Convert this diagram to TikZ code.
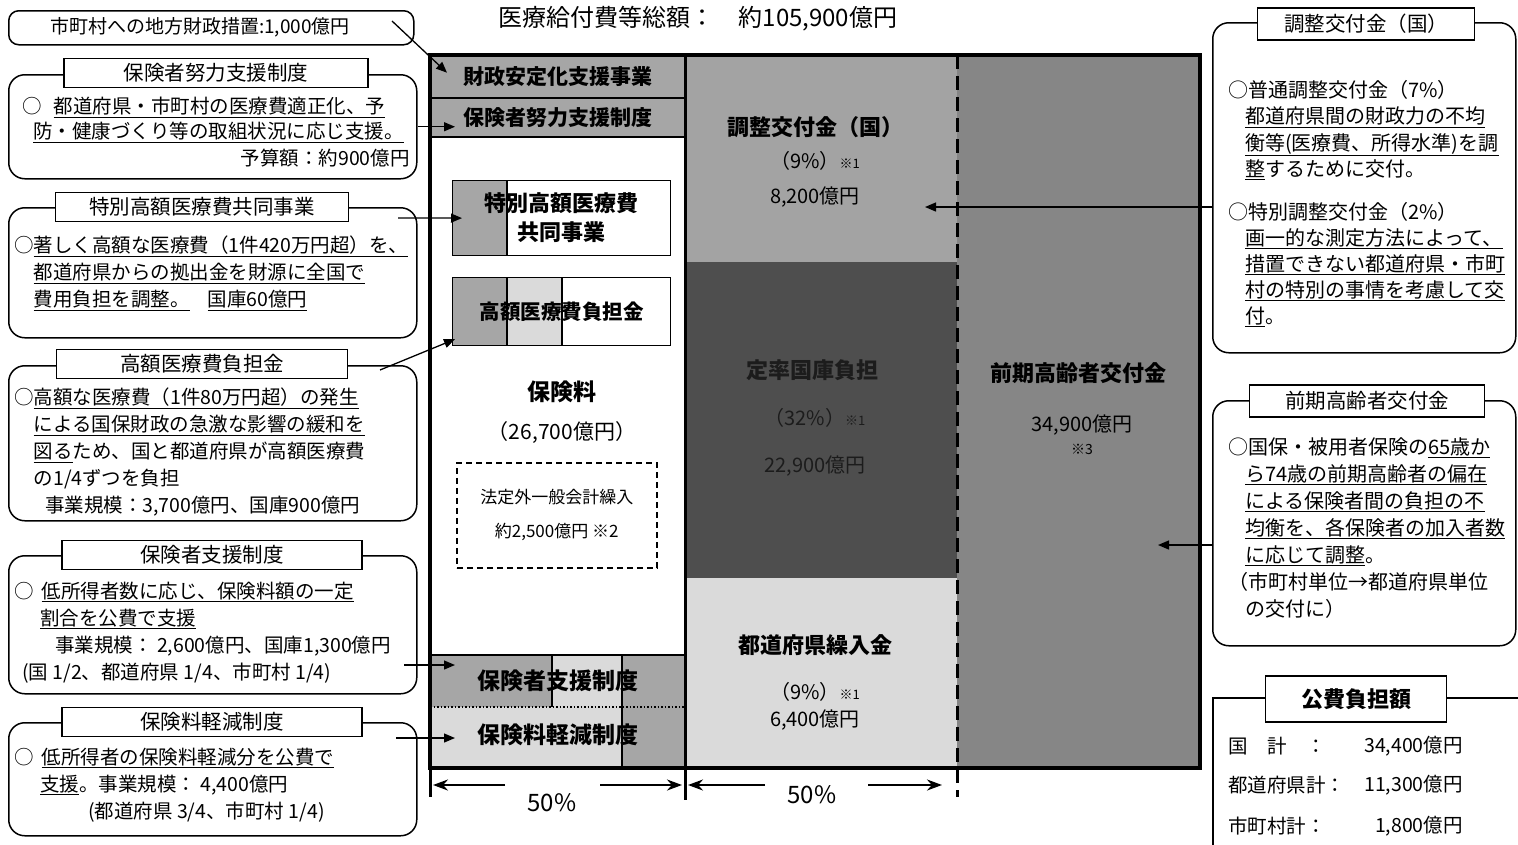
\documentclass[tikz,border=0pt]{standalone}
\usepackage{fontspec}
\setmainfont{Noto Sans CJK JP}
\usetikzlibrary{arrows.meta,positioning}

\definecolor{midgray}{HTML}{A6A6A6}
\definecolor{paleGray}{HTML}{DADADA}
\definecolor{choseiGray}{HTML}{A3A3A3}
\definecolor{teiritsuGray}{HTML}{4E4E4E}
\definecolor{zenkiGray}{HTML}{868686}
\definecolor{darkText}{HTML}{1C1C1C}

\newcommand\jsize[2]{\fontsize{#1}{#2}\selectfont}

\tikzset{
  callout/.style={draw, line width=1.5pt, rounded corners=16pt, anchor=north west, inner sep=0pt},
  tabbox/.style={draw, line width=1.5pt, fill=white, inner sep=0pt, minimum height=29pt, font=\jsize{20.5}{24}},
  body/.style={anchor=north west, inner sep=0pt, align=left, font=\jsize{19.5}{27}},
  rbody/.style={anchor=north west, inner sep=0pt, align=left, font=\jsize{20}{26.5}},
  block/.style={anchor=north west, inner sep=0pt},
  blab/.style={inner sep=0pt, font=\bfseries\jsize{22}{29}, align=center},
  num/.style={inner sep=0pt, font=\jsize{20}{24}},
  arr/.style={-{Triangle[length=11pt,width=9pt]}, line width=1.3pt},
  dimarr/.style={-{Stealth[length=15pt,width=11pt]}, line width=2pt},
}

\begin{document}
\begin{tikzpicture}[x=1pt,y=-1pt]
\clip (0,0) rectangle (1518,844);
\fill[white] (0,0) rectangle (1518,844);

% title
\node[inner sep=0pt, font=\jsize{24}{28}] (title) at (698,19) {医療給付費等総額：　約105,900億円};

% ---- left column ----
\node[block, fill=midgray, minimum width=255pt, minimum height=43pt, blab, font=\bfseries\jsize{21}{25}] (zaisei) at (430,55) {財政安定化支援事業};
\node[block, fill=midgray, minimum width=255pt, minimum height=39pt, blab, font=\bfseries\jsize{21}{25}] (doryoku) at (430,98) {保険者努力支援制度};
\draw[line width=1.2pt] (430,98) -- (685,98) (430,137) -- (685,137);

\fill[midgray] (452,180) rectangle (507,255);
\draw[line width=1.2pt] (507,180) -- (507,255);
\node[block, draw, line width=1.2pt, minimum width=218pt, minimum height=75pt, blab] (tokubetsu) at (452,180) {特別高額医療費\\共同事業};

\fill[midgray] (452,277) rectangle (507,345);
\fill[paleGray] (507,277) rectangle (562,345);
\draw[line width=1.2pt] (507,277) -- (507,345) (562,277) -- (562,345);
\node[block, draw, line width=1.2pt, minimum width=218pt, minimum height=68pt, blab, font=\bfseries\jsize{20.5}{25}] (kogaku) at (452,277) {高額医療費負担金};

\node[blab, font=\bfseries\jsize{23}{28}] (hokenryo) at (562,392) {保険料};
\node[num, font=\jsize{21}{25}] (hokenryoAmt) at (562,432) {（26,700億円）};
\node[block, draw, dashed, dash pattern=on 6pt off 4pt, line width=1.5pt, minimum width=200pt, minimum height=105pt, align=center, font=\jsize{17}{34}] (hoteigai) at (456,462) {法定外一般会計繰入\\約2,500億円 ※2};

\fill[midgray] (430,655) rectangle (552,707);
\fill[paleGray] (552,655) rectangle (622,707);
\fill[midgray] (622,655) rectangle (685,707);
\fill[paleGray] (430,707) rectangle (622,768);
\fill[midgray] (622,707) rectangle (685,768);
\draw[line width=1.2pt] (430,655) -- (685,655) (552,655) -- (552,707) (622,655) -- (622,768);
\draw[line width=1.5pt, dotted] (430,707) -- (685,707);
\node[block, minimum width=255pt, minimum height=52pt, blab, font=\bfseries\jsize{23}{28}] (shien) at (430,655) {保険者支援制度};
\node[block, minimum width=255pt, minimum height=56pt, blab, font=\bfseries\jsize{23}{28}] (keigen) at (430,707) {保険料軽減制度};

% ---- right column ----
\node[block, fill=choseiGray, minimum width=272pt, minimum height=207pt] (chosei) at (685,55) {};
\node[block, fill=teiritsuGray, minimum width=272pt, minimum height=316pt] (teiritsu) at (685,262) {};
\node[block, fill=paleGray, minimum width=272pt, minimum height=190pt] (kuriire) at (685,578) {};
\node[block, fill=zenkiGray, minimum width=243pt, minimum height=713pt] (zenki) at (957,55) {};

\node[blab] (choseiL) at (815,127) {調整交付金（国）};
\node[num] (choseiP) at (815,161) {（9\%）{\jsize{13}{15}※1}};
\node[num] (choseiA) at (815,197) {8,200億円};

\node[blab, text=darkText] (teiritsuL) at (812,370) {定率国庫負担};
\node[num, text=darkText] (teiritsuP) at (815,418) {（32\%）{\jsize{13}{15}※1}};
\node[num, text=darkText] (teiritsuA) at (815,466) {22,900億円};

\node[blab] (kuriireL) at (815,645) {都道府県繰入金};
\node[num] (kuriireP) at (815,692) {（9\%）{\jsize{13}{15}※1}};
\node[num] (kuriireA) at (815,720) {6,400億円};

\node[blab] (zenkiL) at (1078,373) {前期高齢者交付金};
\node[num] (zenkiA) at (1082,425) {34,900億円};
\node[inner sep=0pt, font=\jsize{14}{16}] (zenkiN) at (1082,449) {※3};

% frame
\draw[line width=3pt, dash pattern=on 14pt off 7pt] (957,55) -- (957,797);
\draw[line width=3pt] (685,55) -- (685,800);
\draw[line width=4pt] (430,55) rectangle (1200,768);
\draw[line width=3pt] (430,768) -- (430,797);

% 50% dimensions
\node[inner sep=0pt, font=\jsize{24}{28}] (pctL) at (552,803) {50\%};
\node[inner sep=0pt, font=\jsize{24}{28}] (pctR) at (812,795) {50\%};
\coordinate (pctLa) at (505,785);
\coordinate (pctLb) at (433,785);
\coordinate (pctLc) at (600,785);
\coordinate (pctLd) at (682,785);
\coordinate (pctRa) at (765,785);
\coordinate (pctRb) at (688,785);
\coordinate (pctRc) at (868,785);
\coordinate (pctRd) at (942,785);
\draw[dimarr] (pctLa) -- (pctLb);
\draw[dimarr] (pctLc) -- (pctLd);
\draw[dimarr] (pctRa) -- (pctRb);
\draw[dimarr] (pctRc) -- (pctRd);

% ---- left callouts ----
\node[draw, line width=1.5pt, rounded corners=10pt, anchor=north west, inner sep=0pt, minimum width=405pt, minimum height=34pt] (chihoC) at (8,10) {};
\node[inner sep=0pt, font=\jsize{19}{23}] (chihoT) at (200,27) {市町村への地方財政措置:1,000億円};

\node[callout, minimum width=408pt, minimum height=104pt] (doryokuC) at (8,74) {};
\node[tabbox, minimum width=304pt] (doryokuT) at (216,73) {保険者努力支援制度};
\node[body, font=\jsize{19.5}{25}] (doryokuB) at (22,97) {○\hspace{12pt}\underline{都道府県・市町村の医療費適正化、予}\\
\hspace*{11pt}\underline{防・健康づくり等の取組状況に応じ支援。}};
\node[anchor=east, inner sep=0pt, font=\jsize{19.5}{25}] (doryokuY) at (410,158) {予算額：約900億円};

\node[callout, minimum width=408pt, minimum height=130pt] (tokuC) at (8,207) {};
\node[tabbox, minimum width=293pt] (tokuT) at (202,207) {特別高額医療費共同事業};
\node[body] (tokuB) at (14,236) {○\underline{著しく高額な医療費（1件420万円超）を、}\\
\hspace*{19.5pt}\underline{都道府県からの拠出金を財源に全国で}\\
\hspace*{19.5pt}\underline{費用負担を調整。}\hspace{18pt}\underline{国庫60億円}};

\node[callout, minimum width=408pt, minimum height=155pt] (kogakuC) at (8,365) {};
\node[tabbox, minimum width=291pt] (kogakuT) at (202,364) {高額医療費負担金};
\node[body] (kogakuB) at (14,388) {○\underline{高額な医療費（1件80万円超）の発生}\\
\hspace*{19.5pt}\underline{による国保財政の急激な影響の緩和を}\\
\hspace*{19.5pt}\underline{図る}ため、国と都道府県が高額医療費\\
\hspace*{19.5pt}の1/4ずつを負担\\
\hspace*{31pt}事業規模：3,700億円、国庫900億円};

\node[callout, minimum width=408pt, minimum height=138pt] (shienC) at (8,555) {};
\node[tabbox, minimum width=300pt] (shienT) at (212,555) {保険者支援制度};
\node[body] (shienB) at (14,582) {○\hspace{8pt}\underline{低所得者数に応じ、保険料額の一定}\\
\hspace*{26pt}\underline{割合を公費で支援}\\
\hspace*{41pt}事業規模： 2,600億円、国庫1,300億円\\
\hspace*{8pt}(国 1/2、都道府県 1/4、市町村 1/4)};

\node[callout, minimum width=408pt, minimum height=113pt] (keigenC) at (8,722) {};
\node[tabbox, minimum width=300pt] (keigenT) at (212,722) {保険料軽減制度};
\node[body] (keigenB) at (14,748) {○\hspace{8pt}\underline{低所得者の保険料軽減分を公費で}\\
\hspace*{26pt}\underline{支援}。事業規模： 4,400億円\\
\hspace*{74pt}(都道府県 3/4、市町村 1/4)};

% ---- right callouts ----
\node[callout, minimum width=303pt, minimum height=330pt] (choseiC) at (1212,22) {};
\node[tabbox, minimum width=217pt, minimum height=32pt] (choseiT) at (1366,24) {調整交付金（国）};
\node[rbody] (choseiB) at (1228,80) {○普通調整交付金（7\%）\\
\hspace*{17pt}\underline{都道府県間の財政力の不均}\\
\hspace*{17pt}\underline{衡等(医療費、所得水準)を調}\\
\hspace*{17pt}\underline{整}するために交付。};
\node[rbody, font=\jsize{20}{26}] (choseiB2) at (1228,202) {○特別調整交付金（2\%）\\
\hspace*{17pt}\underline{画一的な測定方法によって、}\\
\hspace*{17pt}\underline{措置できない都道府県・市町}\\
\hspace*{17pt}\underline{村の特別の事情を考慮して交}\\
\hspace*{17pt}\underline{付}。};

\node[callout, minimum width=303pt, minimum height=245pt] (zenkiC) at (1212,400) {};
\node[tabbox, minimum width=235pt, minimum height=32pt] (zenkiT) at (1367,401) {前期高齢者交付金};
\node[rbody, font=\jsize{20}{27}] (zenkiB) at (1228,437) {○国保・被用者保険の\underline{65歳か}\\
\hspace*{17pt}\underline{ら74歳の前期高齢者の偏在}\\
\hspace*{17pt}\underline{による保険者間の負担の不}\\
\hspace*{17pt}\underline{均衡を、各保険者の加入者数}\\
\hspace*{17pt}\underline{に応じて調整}。\\
（市町村単位→都道府県単位\\
\hspace*{17pt}の交付に）};

\node[draw, line width=1.5pt, anchor=north west, inner sep=0pt, minimum width=330pt, minimum height=170pt] (kohiC) at (1212,697) {};
\node[tabbox, minimum width=181pt, minimum height=46pt, font=\bfseries\jsize{22}{26}] (kohiT) at (1356,699) {公費負担額};
\node[anchor=west, inner sep=0pt, font=\jsize{19.5}{23}] (kohiKuni) at (1228,746) {国　計　：};
\node[anchor=east, inner sep=0pt, font=\jsize{19.5}{23}] (kohiKuniA) at (1463,746) {34,400億円};
\node[anchor=west, inner sep=0pt, font=\jsize{19.5}{23}] (kohiKen) at (1228,785) {都道府県計：};
\node[anchor=east, inner sep=0pt, font=\jsize{19.5}{23}] (kohiKenA) at (1463,785) {11,300億円};
\node[anchor=west, inner sep=0pt, font=\jsize{19.5}{23}] (kohiShi) at (1228,826) {市町村計：};
\node[anchor=east, inner sep=0pt, font=\jsize{19.5}{23}] (kohiShiA) at (1463,826) {1,800億円};

% ---- connectors ----
\coordinate (chihoOut) at (392,21);
\coordinate (tokuOut) at (398,218);
\coordinate (kogakuOut) at (380,370);
\coordinate (shienOut) at (404,665);
\coordinate (keigenOut) at (396,738);
\coordinate (choseiTip) at (925,207);
\coordinate (zenkiTip) at (1158,545);
\draw[arr] (chihoOut) -- ([xshift=17pt,yshift=4pt]zaisei.west);
\draw[arr] (doryokuC.east) -- ([xshift=25pt]doryokuC.east -| doryoku.west);
\draw[arr] (tokuOut) -- ([xshift=10pt]tokubetsu.west);
\draw[arr] (kogakuOut) -- ([xshift=3pt,yshift=7pt]kogaku.south west);
\draw[arr] (shienOut) -- ([xshift=25pt]shienOut -| shien.west);
\draw[arr] (keigenOut) -- ([xshift=25pt]keigenOut -| keigen.west);
\draw[arr] (choseiC.west |- choseiTip) -- (choseiTip);
\draw[arr] (zenkiC.west |- zenkiTip) -- (zenkiTip);
\end{tikzpicture}
\end{document}
